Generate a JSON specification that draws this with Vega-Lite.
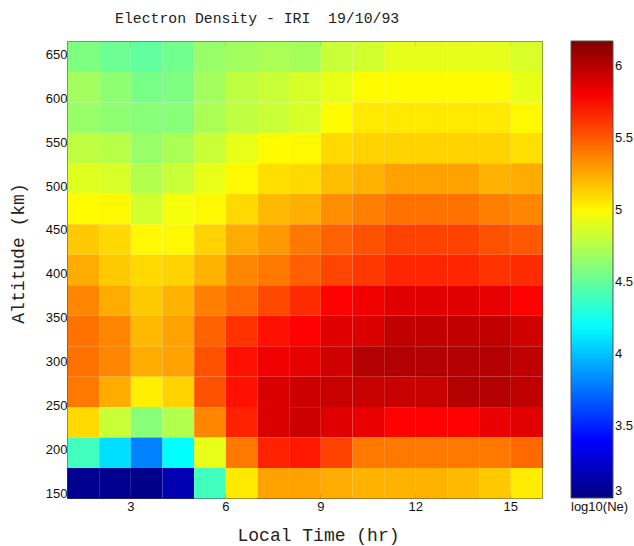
{
"$schema": "https://vega.github.io/schema/vega-lite/v6.json",
"autosize": {"type": "none"},
"padding": {"left": 67, "top": 41, "right": 92, "bottom": 48},
"width": 475,
"height": 457,
"background": "white",
"title": {"text": "Electron Density - IRI \u00a019/10/93", "anchor": "start", "frame": "group", "dx": 48, "dy": 12, "font": "Liberation Mono", "fontSize": 14.8, "fontWeight": "normal", "color": "#222", "baseline": "alphabetic", "offset": 15},
"config": {
  "view": {"stroke": null},
  "axis": {"labelFont": "Liberation Sans", "labelFontSize": 13, "labelColor": "#111", "tickColor": "#444", "tickSize": -5, "domain": true, "domainColor": "#444", "grid": false, "titleFont": "Liberation Mono", "titleFontSize": 18, "titleFontWeight": "normal", "titleColor": "#222", "zindex": 1},
  "legend": {"orient": "right", "offset": 28, "padding": 0, "gradientLength": 457, "gradientThickness": 42, "titleOrient": "bottom", "titleAnchor": "start", "labelFont": "Liberation Sans", "labelFontSize": 13, "labelColor": "#111", "titleFont": "Liberation Sans", "titleFontSize": 13, "titleFontWeight": "normal", "titleColor": "#111", "labelOffset": 4, "gradientStrokeColor": "#555", "gradientStrokeWidth": 1, "titlePadding": 2}
},
"data": {"values": [
{"h":1,"a":630.33,"v":4.58},{"h":2,"a":630.33,"v":4.53},{"h":3,"a":630.33,"v":4.49},{"h":4,"a":630.33,"v":4.54},{"h":5,"a":630.33,"v":4.66},{"h":6,"a":630.33,"v":4.69},{"h":7,"a":630.33,"v":4.72},{"h":8,"a":630.33,"v":4.70},{"h":9,"a":630.33,"v":4.81},{"h":10,"a":630.33,"v":4.84},{"h":11,"a":630.33,"v":4.90},{"h":12,"a":630.33,"v":4.90},{"h":13,"a":630.33,"v":4.90},{"h":14,"a":630.33,"v":4.90},{"h":15,"a":630.33,"v":4.86},
{"h":1,"a":595.67,"v":4.69},{"h":2,"a":595.67,"v":4.63},{"h":3,"a":595.67,"v":4.56},{"h":4,"a":595.67,"v":4.58},{"h":5,"a":595.67,"v":4.69},{"h":6,"a":595.67,"v":4.78},{"h":7,"a":595.67,"v":4.81},{"h":8,"a":595.67,"v":4.86},{"h":9,"a":595.67,"v":4.91},{"h":10,"a":595.67,"v":4.99},{"h":11,"a":595.67,"v":4.99},{"h":12,"a":595.67,"v":4.99},{"h":13,"a":595.67,"v":4.99},{"h":14,"a":595.67,"v":4.99},{"h":15,"a":595.67,"v":4.91},
{"h":1,"a":561,"v":4.66},{"h":2,"a":561,"v":4.63},{"h":3,"a":561,"v":4.61},{"h":4,"a":561,"v":4.61},{"h":5,"a":561,"v":4.72},{"h":6,"a":561,"v":4.78},{"h":7,"a":561,"v":4.81},{"h":8,"a":561,"v":4.86},{"h":9,"a":561,"v":4.99},{"h":10,"a":561,"v":5.05},{"h":11,"a":561,"v":5.05},{"h":12,"a":561,"v":5.05},{"h":13,"a":561,"v":5.05},{"h":14,"a":561,"v":5.05},{"h":15,"a":561,"v":5.00},
{"h":1,"a":526.33,"v":4.78},{"h":2,"a":526.33,"v":4.76},{"h":3,"a":526.33,"v":4.66},{"h":4,"a":526.33,"v":4.72},{"h":5,"a":526.33,"v":4.81},{"h":6,"a":526.33,"v":4.91},{"h":7,"a":526.33,"v":4.99},{"h":8,"a":526.33,"v":5.00},{"h":9,"a":526.33,"v":5.10},{"h":10,"a":526.33,"v":5.12},{"h":11,"a":526.33,"v":5.12},{"h":12,"a":526.33,"v":5.12},{"h":13,"a":526.33,"v":5.12},{"h":14,"a":526.33,"v":5.12},{"h":15,"a":526.33,"v":5.08},
{"h":1,"a":491.67,"v":4.88},{"h":2,"a":491.67,"v":4.86},{"h":3,"a":491.67,"v":4.74},{"h":4,"a":491.67,"v":4.81},{"h":5,"a":491.67,"v":4.91},{"h":6,"a":491.67,"v":5.00},{"h":7,"a":491.67,"v":5.08},{"h":8,"a":491.67,"v":5.10},{"h":9,"a":491.67,"v":5.18},{"h":10,"a":491.67,"v":5.22},{"h":11,"a":491.67,"v":5.27},{"h":12,"a":491.67,"v":5.27},{"h":13,"a":491.67,"v":5.27},{"h":14,"a":491.67,"v":5.22},{"h":15,"a":491.67,"v":5.24},
{"h":1,"a":457,"v":4.99},{"h":2,"a":457,"v":5.00},{"h":3,"a":457,"v":4.84},{"h":4,"a":457,"v":4.95},{"h":5,"a":457,"v":5.00},{"h":6,"a":457,"v":5.10},{"h":7,"a":457,"v":5.20},{"h":8,"a":457,"v":5.23},{"h":9,"a":457,"v":5.33},{"h":10,"a":457,"v":5.38},{"h":11,"a":457,"v":5.42},{"h":12,"a":457,"v":5.42},{"h":13,"a":457,"v":5.42},{"h":14,"a":457,"v":5.38},{"h":15,"a":457,"v":5.36},
{"h":1,"a":422.33,"v":5.15},{"h":2,"a":422.33,"v":5.10},{"h":3,"a":422.33,"v":5.00},{"h":4,"a":422.33,"v":5.00},{"h":5,"a":422.33,"v":5.12},{"h":6,"a":422.33,"v":5.24},{"h":7,"a":422.33,"v":5.30},{"h":8,"a":422.33,"v":5.40},{"h":9,"a":422.33,"v":5.47},{"h":10,"a":422.33,"v":5.52},{"h":11,"a":422.33,"v":5.57},{"h":12,"a":422.33,"v":5.57},{"h":13,"a":422.33,"v":5.57},{"h":14,"a":422.33,"v":5.52},{"h":15,"a":422.33,"v":5.50},
{"h":1,"a":387.67,"v":5.24},{"h":2,"a":387.67,"v":5.15},{"h":3,"a":387.67,"v":5.10},{"h":4,"a":387.67,"v":5.12},{"h":5,"a":387.67,"v":5.22},{"h":6,"a":387.67,"v":5.36},{"h":7,"a":387.67,"v":5.40},{"h":8,"a":387.67,"v":5.48},{"h":9,"a":387.67,"v":5.56},{"h":10,"a":387.67,"v":5.60},{"h":11,"a":387.67,"v":5.66},{"h":12,"a":387.67,"v":5.66},{"h":13,"a":387.67,"v":5.66},{"h":14,"a":387.67,"v":5.62},{"h":15,"a":387.67,"v":5.64},
{"h":1,"a":353,"v":5.36},{"h":2,"a":353,"v":5.24},{"h":3,"a":353,"v":5.15},{"h":4,"a":353,"v":5.22},{"h":5,"a":353,"v":5.38},{"h":6,"a":353,"v":5.45},{"h":7,"a":353,"v":5.55},{"h":8,"a":353,"v":5.64},{"h":9,"a":353,"v":5.77},{"h":10,"a":353,"v":5.82},{"h":11,"a":353,"v":5.87},{"h":12,"a":353,"v":5.87},{"h":13,"a":353,"v":5.87},{"h":14,"a":353,"v":5.85},{"h":15,"a":353,"v":5.77},
{"h":1,"a":318.33,"v":5.42},{"h":2,"a":318.33,"v":5.36},{"h":3,"a":318.33,"v":5.20},{"h":4,"a":318.33,"v":5.27},{"h":5,"a":318.33,"v":5.47},{"h":6,"a":318.33,"v":5.62},{"h":7,"a":318.33,"v":5.72},{"h":8,"a":318.33,"v":5.77},{"h":9,"a":318.33,"v":5.87},{"h":10,"a":318.33,"v":5.89},{"h":11,"a":318.33,"v":5.97},{"h":12,"a":318.33,"v":5.97},{"h":13,"a":318.33,"v":5.97},{"h":14,"a":318.33,"v":5.97},{"h":15,"a":318.33,"v":5.92},
{"h":1,"a":283.67,"v":5.42},{"h":2,"a":283.67,"v":5.36},{"h":3,"a":283.67,"v":5.24},{"h":4,"a":283.67,"v":5.27},{"h":5,"a":283.67,"v":5.52},{"h":6,"a":283.67,"v":5.72},{"h":7,"a":283.67,"v":5.82},{"h":8,"a":283.67,"v":5.85},{"h":9,"a":283.67,"v":5.92},{"h":10,"a":283.67,"v":6.01},{"h":11,"a":283.67,"v":6.01},{"h":12,"a":283.67,"v":6.01},{"h":13,"a":283.67,"v":6.01},{"h":14,"a":283.67,"v":6.01},{"h":15,"a":283.67,"v":5.97},
{"h":1,"a":249,"v":5.40},{"h":2,"a":249,"v":5.24},{"h":3,"a":249,"v":5.03},{"h":4,"a":249,"v":5.12},{"h":5,"a":249,"v":5.52},{"h":6,"a":249,"v":5.72},{"h":7,"a":249,"v":5.89},{"h":8,"a":249,"v":5.93},{"h":9,"a":249,"v":5.95},{"h":10,"a":249,"v":5.95},{"h":11,"a":249,"v":5.95},{"h":12,"a":249,"v":5.95},{"h":13,"a":249,"v":6.01},{"h":14,"a":249,"v":6.01},{"h":15,"a":249,"v":5.97},
{"h":1,"a":214.33,"v":5.10},{"h":2,"a":214.33,"v":4.81},{"h":3,"a":214.33,"v":4.61},{"h":4,"a":214.33,"v":4.74},{"h":5,"a":214.33,"v":5.36},{"h":6,"a":214.33,"v":5.67},{"h":7,"a":214.33,"v":5.89},{"h":8,"a":214.33,"v":5.93},{"h":9,"a":214.33,"v":5.87},{"h":10,"a":214.33,"v":5.84},{"h":11,"a":214.33,"v":5.77},{"h":12,"a":214.33,"v":5.77},{"h":13,"a":214.33,"v":5.77},{"h":14,"a":214.33,"v":5.84},{"h":15,"a":214.33,"v":5.86},
{"h":1,"a":179.67,"v":4.39},{"h":2,"a":179.67,"v":4.09},{"h":3,"a":179.67,"v":3.80},{"h":4,"a":179.67,"v":4.19},{"h":5,"a":179.67,"v":4.91},{"h":6,"a":179.67,"v":5.40},{"h":7,"a":179.67,"v":5.67},{"h":8,"a":179.67,"v":5.70},{"h":9,"a":179.67,"v":5.57},{"h":10,"a":179.67,"v":5.40},{"h":11,"a":179.67,"v":5.40},{"h":12,"a":179.67,"v":5.40},{"h":13,"a":179.67,"v":5.40},{"h":14,"a":179.67,"v":5.40},{"h":15,"a":179.67,"v":5.45},
{"h":1,"a":145,"v":3.05},{"h":2,"a":145,"v":3.05},{"h":3,"a":145,"v":3.03},{"h":4,"a":145,"v":3.15},{"h":5,"a":145,"v":4.39},{"h":6,"a":145,"v":5.05},{"h":7,"a":145,"v":5.27},{"h":8,"a":145,"v":5.27},{"h":9,"a":145,"v":5.24},{"h":10,"a":145,"v":5.22},{"h":11,"a":145,"v":5.22},{"h":12,"a":145,"v":5.22},{"h":13,"a":145,"v":5.20},{"h":14,"a":145,"v":5.15},{"h":15,"a":145,"v":5.04}
]},
"layer": [
  {
    "mark": {"type": "rect", "binSpacing": 0, "strokeWidth": 0},
    "encoding": {
      "x": {"field": "h", "type": "quantitative", "bin": {"binned": true, "step": 1}, "scale": {"domain": [1, 16], "nice": false, "zero": false}, "axis": {"orient": "bottom", "values": [3, 6, 9, 12, 15], "title": "Local Time (hr)", "labelPadding": 7, "titleX": 251, "titleY": 42, "titleAlign": "center", "titleBaseline": "alphabetic"}},
      "y": {"field": "a", "type": "quantitative", "bin": {"binned": true, "step": 34.667}, "scale": {"domain": [145, 665], "nice": false, "zero": false}, "axis": {"orient": "left", "values": [150, 200, 250, 300, 350, 400, 450, 500, 550, 600, 650], "title": "Altitude (km)", "labelPadding": 5, "titleX": -44, "titleY": 212, "titleAngle": -90, "titleAlign": "center", "titleBaseline": "alphabetic"}},
      "color": {"field": "v", "type": "quantitative", "scale": {"domain": [3, 6.17], "range": ["#000080", "#0000ff", "#0080ff", "#00ffff", "#80ff80", "#ffff00", "#ff8000", "#ff0000", "#800000"], "interpolate": "rgb"}, "legend": {"title": "log10(Ne)", "values": [3, 3.5, 4, 4.5, 5, 5.5, 6], "format": "~g"}}
    }
  },
  {
    "mark": {"type": "point", "opacity": 0},
    "encoding": {
      "x": {"field": "h", "type": "quantitative", "axis": {"orient": "top", "values": [3, 6, 9, 12, 15], "labels": false, "title": null}},
      "y": {"field": "a", "type": "quantitative", "axis": {"orient": "right", "values": [150, 200, 250, 300, 350, 400, 450, 500, 550, 600, 650], "labels": false, "title": null}}
    }
  }
],
"resolve": {"axis": {"x": "independent", "y": "independent"}}
}
